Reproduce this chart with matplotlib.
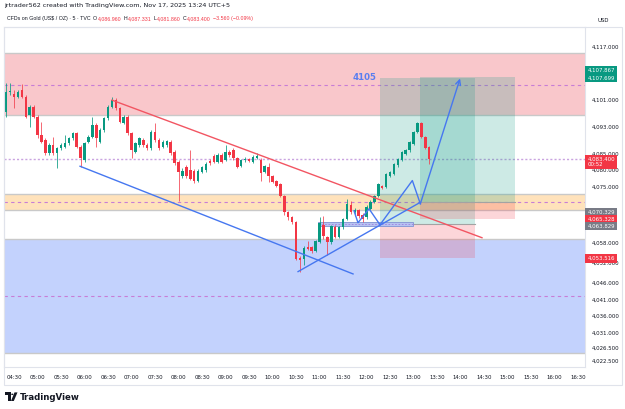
import matplotlib
matplotlib.use("Agg")
import matplotlib.pyplot as plt
from matplotlib.patches import Rectangle, Polygon, Circle
from matplotlib.transforms import blended_transform_factory

# ---------------- data ----------------
first_candle_min = -10          # 04:20, minutes relative to 04:30
bar_minutes = 5

opens = [4097.3, 4103.5, 4102.8, 4102.0, 4104.0, 4102.0, 4096.4, 4099.0, 4096.0, 4090.5,
         4089.0, 4085.0, 4087.5, 4085.0, 4086.5, 4087.0, 4088.0, 4089.5, 4091.0, 4087.0,
         4083.0, 4088.5, 4090.0, 4093.5, 4088.5, 4092.0, 4095.5, 4099.0, 4101.0, 4098.5,
         4094.2, 4096.0, 4091.0, 4085.5, 4087.5, 4089.0, 4087.5, 4086.5, 4091.5, 4089.0,
         4087.0, 4087.5, 4088.5, 4085.5, 4082.5, 4078.3, 4080.8, 4080.0, 4079.8, 4076.8,
         4079.5, 4080.0, 4082.6, 4084.3, 4082.3, 4084.5, 4083.0, 4085.5, 4086.0, 4083.6,
         4081.3, 4083.0, 4083.2, 4082.3, 4083.5, 4083.0, 4079.3, 4081.0, 4078.3, 4076.8,
         4075.8, 4072.3, 4067.2, 4065.7, 4064.2, 4053.4, 4053.1, 4056.8, 4056.8, 4055.5,
         4058.2, 4063.5, 4059.9, 4058.2, 4062.9, 4059.9, 4062.7, 4065.2, 4069.5, 4067.3,
         4068.0, 4066.4, 4065.7, 4068.3, 4070.3, 4072.3, 4075.3, 4074.8, 4078.3, 4078.8,
         4081.4, 4082.9, 4084.9, 4085.9, 4087.9, 4091.4, 4094.0, 4089.9, 4086.96]
highs = [4106.3, 4106.3, 4104.0, 4104.0, 4105.7, 4102.5, 4099.5, 4099.5, 4096.5, 4094.5,
         4089.5, 4088.0, 4090.0, 4087.0, 4088.0, 4090.5, 4090.0, 4091.5, 4091.5, 4087.5,
         4088.5, 4090.5, 4096.0, 4094.0, 4092.5, 4096.0, 4099.5, 4102.0, 4101.5, 4099.0,
         4096.5, 4096.5, 4091.5, 4088.5, 4090.0, 4089.5, 4088.0, 4092.0, 4094.0, 4089.5,
         4089.0, 4089.0, 4089.0, 4086.0, 4083.0, 4080.5, 4081.5, 4086.0, 4080.3, 4080.3,
         4081.3, 4082.3, 4083.2, 4084.8, 4085.0, 4085.0, 4087.4, 4086.0, 4086.5, 4084.0,
         4083.3, 4083.8, 4083.5, 4084.5, 4085.0, 4083.5, 4081.5, 4082.0, 4078.5, 4077.0,
         4076.0, 4072.5, 4067.5, 4066.0, 4064.5, 4054.0, 4057.0, 4058.7, 4057.0, 4058.9,
         4065.7, 4066.2, 4060.2, 4063.5, 4063.3, 4063.0, 4065.5, 4071.3, 4070.5, 4068.5,
         4068.3, 4067.0, 4069.5, 4070.8, 4072.6, 4076.0, 4075.6, 4079.0, 4079.6, 4082.2,
         4083.7, 4085.7, 4086.2, 4088.7, 4091.7, 4094.5, 4094.5, 4090.2, 4087.331]
lows = [4096.0, 4102.5, 4098.5, 4101.5, 4101.5, 4095.5, 4093.0, 4095.5, 4089.5, 4088.0,
        4084.5, 4084.5, 4084.5, 4080.5, 4086.0, 4086.5, 4087.5, 4089.0, 4086.5, 4081.0,
        4082.5, 4088.0, 4089.5, 4087.0, 4088.0, 4091.5, 4095.0, 4098.5, 4098.0, 4094.0,
        4093.8, 4090.5, 4083.5, 4085.0, 4087.0, 4087.0, 4086.0, 4086.0, 4088.5, 4086.0,
        4086.5, 4087.0, 4084.5, 4081.5, 4070.5, 4077.5, 4077.5, 4077.0, 4076.0, 4076.3,
        4079.0, 4079.5, 4081.5, 4082.0, 4082.0, 4082.0, 4082.8, 4084.0, 4083.0, 4080.5,
        4081.0, 4082.5, 4082.3, 4082.0, 4083.2, 4076.8, 4079.0, 4076.5, 4076.0, 4075.0,
        4072.0, 4066.3, 4065.0, 4063.8, 4053.0, 4049.4, 4051.5, 4056.0, 4055.0, 4055.2,
        4058.0, 4059.3, 4054.5, 4057.8, 4059.5, 4059.5, 4062.3, 4064.8, 4066.8, 4066.0,
        4065.5, 4064.3, 4065.3, 4068.0, 4070.0, 4072.0, 4074.3, 4074.5, 4078.0, 4078.5,
        4081.0, 4082.6, 4084.6, 4085.5, 4087.6, 4091.0, 4089.5, 4086.3, 4081.86]
closes = [4103.5, 4103.8, 4102.0, 4103.5, 4102.0, 4096.0, 4099.0, 4096.0, 4090.5, 4088.5,
          4085.0, 4087.5, 4085.0, 4086.5, 4087.5, 4088.0, 4089.5, 4091.0, 4087.0, 4083.5,
          4088.0, 4090.0, 4093.5, 4089.5, 4092.0, 4095.5, 4099.0, 4101.0, 4098.5, 4094.5,
          4096.0, 4091.0, 4086.0, 4088.0, 4089.5, 4087.5, 4086.5, 4091.5, 4089.0, 4086.5,
          4088.5, 4088.7, 4085.0, 4082.0, 4079.3, 4079.8, 4078.3, 4077.3, 4076.8, 4079.8,
          4080.8, 4081.8, 4082.0, 4082.5, 4084.5, 4082.5, 4085.5, 4084.6, 4083.6, 4081.0,
          4083.0, 4083.3, 4082.6, 4084.0, 4084.3, 4079.0, 4081.3, 4078.3, 4076.3, 4075.3,
          4072.3, 4067.2, 4065.7, 4064.2, 4053.2, 4052.9, 4056.6, 4056.3, 4055.5, 4058.7,
          4063.9, 4060.0, 4058.2, 4063.2, 4059.9, 4062.7, 4065.2, 4069.8, 4067.3, 4068.0,
          4066.0, 4065.3, 4068.8, 4070.3, 4072.3, 4075.8, 4074.6, 4078.8, 4079.3, 4081.9,
          4083.4, 4085.4, 4085.9, 4088.4, 4091.4, 4094.0, 4089.9, 4086.7, 4083.4]

time_tick_minutes = list(range(0, 721, 30))
time_tick_labels = ["04:30", "05:00", "05:30", "06:00", "06:30", "07:00", "07:30", "08:00",
                    "08:30", "09:00", "09:30", "10:00", "10:30", "11:00", "11:30", "12:00",
                    "12:30", "13:00", "13:30", "14:00", "14:30", "15:00", "15:30", "16:00", "16:30"]
price_ticks = [4117.0, 4101.0, 4093.0, 4085.0, 4080.0, 4075.0, 4058.0, 4052.0,
               4046.0, 4041.0, 4036.0, 4031.0, 4026.5, 4022.5]

zone_bounds = [(4096.5, 4115.2), (4067.8, 4072.9), (4024.9, 4059.3)]
zone_colors = ["#f9c7cb", "#ffe2bb", "#c3d2fd"]
zone_mids = [4105.6, 4070.3, 4042.2]
last_price = 4083.4

red_trend = [(125.1, 4101.0), (597.4, 4059.6)]
blue_channel = [(84.3, 4081.1), (432.8, 4048.7)]
blue_long = [(362.6, 4049.4), (518.3, 4070.2)]
zigzag = [(467.2, 4063.5), (508.5, 4076.8), (518.7, 4069.8), (569.4, 4107.5)]
small_v = [(434.0, 4067.7), (439.1, 4064.1), (453.2, 4068.3), (467.2, 4063.5)]
blue_box = (388.5, 509.0, 4063.0, 4064.2)

# long position tools: (x0, x1, target, entry, stop)
positions = [(467.2, 588.5, 4107.699, 4063.829, 4053.516),
             (518.3, 639.6, 4107.867, 4070.329, 4065.328)]

target_label = ("4105", 448.0, 4107.9)

# right-axis tags: (text, displayed price, colour)
tags = [("4,107.867", 4110.0, "#089981"),
        ("4,107.699", 4107.7, "#089981"),
        ("4,083.400\n00:52", 4082.4, "#f23645"),
        ("4,070.329", 4067.2, "#787b86"),
        ("4,065.328", 4065.2, "#f23645"),
        ("4,063.829", 4063.1, "#787b86"),
        ("4,053.516", 4053.3, "#f23645")]

header_title = "jrtrader562 created with TradingView.com, Nov 17, 2025 13:24 UTC+5"
symbol_text = "CFDs on Gold (US$ / OZ) \u00b7 5 \u00b7 TVC"
ohlc_letters = ["O", "H", "L", "C"]
ohlc_values = ["4,086.960", "4,087.331", "4,081.860", "4,083.400"]
change_text = "\u22123.560 (\u22120.09%)"

# ---------------- figure ----------------
W, H = 625, 409
fig = plt.figure(figsize=(W / 100, H / 100), dpi=100)
fig.patch.set_facecolor("white")

def fx(x):
    return x / W

def fy(y):
    return 1 - y / H

AX_L, AX_R, AX_T, AX_B = 4, 585, 27, 367
ax = fig.add_axes([fx(AX_L), fy(AX_B), (AX_R - AX_L) / W, (AX_B - AX_T) / H])
ax.set_xlim(-12.77, 728.9)
ax.set_ylim(4020.7, 4123.0)

GREEN = "#089981"
RED = "#f23645"
BLUE = "#4677f0"

# zones
for (lo, hi), col, mid in zip(zone_bounds, zone_colors, zone_mids):
    ax.axhspan(lo, hi, facecolor=col, edgecolor="none", zorder=1)
    ax.axhline(lo, color="#c9c9c9", lw=1.0, zorder=1.2)
    ax.axhline(hi, color="#c9c9c9", lw=1.0, zorder=1.2)
    ax.axhline(mid, color="#c77dd6", lw=0.8, ls=(0, (3, 3)), zorder=1.3)

# position tools
for x0, x1, tgt, ent, stp in positions:
    ax.add_patch(Rectangle((x0, ent), x1 - x0, tgt - ent, facecolor=(8/255, 153/255, 129/255, 0.2),
                           edgecolor="none", zorder=1.5))
    ax.add_patch(Rectangle((x0, stp), x1 - x0, ent - stp, facecolor=(242/255, 54/255, 69/255, 0.2),
                           edgecolor="none", zorder=1.5))
    ax.plot([x0, x1], [ent, ent], color="#a3a3a3", lw=0.8, zorder=1.6)

# last price line
ax.axhline(last_price, color="#c9a3e0", lw=1.0, ls=(0, (1.5, 1.5)), zorder=1.4)

# blue box
bx0, bx1, by0, by1 = blue_box
ax.add_patch(Rectangle((bx0, by0), bx1 - bx0, by1 - by0, facecolor="#b7c3f1",
                       edgecolor="#8b9bd6", lw=0.7, zorder=1.7))
ax.plot([bx0, bx1], [(by0 + by1) / 2] * 2, color="#9f7fe0", lw=0.6, ls=(0, (2, 2)), zorder=1.8)

# candles
n = len(closes)
xs = [first_candle_min + bar_minutes * i for i in range(n)]
for x, o, h, l, c in zip(xs, opens, highs, lows, closes):
    col = GREEN if c >= o else RED
    ax.vlines(x, l, h, color=col, lw=0.7, alpha=0.75 if col == RED else 0.8, zorder=3)
    lo_b = min(o, c)
    hb = max(abs(c - o), 0.15)
    ax.add_patch(Rectangle((x - 1.6, lo_b), 3.2, hb, facecolor=col, edgecolor="none", zorder=3.1))

# trend lines
ax.plot([p[0] for p in red_trend], [p[1] for p in red_trend], color="#f25562", lw=1.0, zorder=4)
ax.plot([p[0] for p in blue_channel], [p[1] for p in blue_channel], color=BLUE, lw=1.0, zorder=4)
ax.plot([p[0] for p in blue_long], [p[1] for p in blue_long], color=BLUE, lw=1.0, zorder=4)
ax.plot([p[0] for p in small_v], [p[1] for p in small_v], color=BLUE, lw=1.0, zorder=4)
ax.plot([p[0] for p in zigzag[:-1]], [p[1] for p in zigzag[:-1]], color=BLUE, lw=1.0, zorder=4)
ax.annotate("", xy=zigzag[-1], xytext=zigzag[-2],
            arrowprops=dict(arrowstyle="->", color=BLUE, lw=1.0, mutation_scale=9,
                            shrinkA=0, shrinkB=0), zorder=4)

ax.text(target_label[1], target_label[2], target_label[0], color="#5a7ef0", fontsize=6.2,
        fontweight="bold", ha="center", va="center", zorder=5)

# axes styling
for s in ["left", "right", "bottom", "top"]:
    ax.spines[s].set_color("#e0e3eb")
    ax.spines[s].set_linewidth(0.8)
ax.yaxis.tick_right()
ax.set_yticks(price_ticks)
ax.set_yticklabels([f"{v:,.3f}" for v in price_ticks])
ax.tick_params(axis="y", length=0, pad=5, labelsize=3.9, labelcolor="#131722")
ax.set_xticks(time_tick_minutes)
ax.set_xticklabels(time_tick_labels)
ax.tick_params(axis="x", length=0, pad=5.5, labelsize=3.9, labelcolor="#131722")

# tags on price axis
tr = blended_transform_factory(ax.transAxes, ax.transData)
for txt, yv, col in tags:
    ax.text(1.004, yv, txt, transform=tr, fontsize=3.9, color="white", ha="left", va="center",
            linespacing=1.25, clip_on=False, zorder=10,
            bbox=dict(boxstyle="square,pad=0.35", facecolor=col, edgecolor="none"))

# outer frame
fig.add_artist(Rectangle((fx(4), fy(385)), (622 - 4) / W, (385 - 27) / H, transform=fig.transFigure,
                         fill=False, edgecolor="#e0e3eb", lw=0.8))

# header line 1
fig.text(fx(4), fy(6), header_title, fontsize=4.6, color="#131722", va="center", ha="left")

# header line 2, pieces placed one after another
renderer = fig.canvas.get_renderer()
HFONT = dict(fontsize=3.75, family="Liberation Sans", va="center", ha="left")
cursor = 7.0

def put(text, color, gap):
    global cursor
    t = fig.text(fx(cursor), fy(18.5), text, color=color, **HFONT)
    bb = t.get_window_extent(renderer=renderer)
    cursor += bb.width + gap
    return t

put(symbol_text, "#131722", 2.6)
for letter, val in zip(ohlc_letters, ohlc_values):
    put(letter, "#131722", 0.6)
    put(val, RED, 2.0)
put(change_text, RED, 0)

fig.text(fx(598), fy(20), "USD", fontsize=3.9, color="#131722", va="center", ha="left")

# TradingView logo
logo_col = "#131722"
fig.add_artist(Rectangle((fx(5), fy(395)), 5.5 / W, 2.6 / H, transform=fig.transFigure,
                         facecolor=logo_col, edgecolor="none"))
fig.add_artist(Rectangle((fx(7.8), fy(401)), 2.7 / W, 6 / H, transform=fig.transFigure,
                         facecolor=logo_col, edgecolor="none"))
fig.add_artist(Circle((fx(12.3), fy(394.3)), 1.1 / W, transform=fig.transFigure,
                      facecolor=logo_col, edgecolor="none"))
fig.add_artist(Polygon([(fx(14.5), fy(392.4)), (fx(17.5), fy(392.4)), (fx(13.8), fy(401)),
                        (fx(11.0), fy(401))], closed=True, transform=fig.transFigure,
                       facecolor=logo_col, edgecolor="none"))
fig.text(fx(19.5), fy(397), "TradingView", fontsize=6.2, fontweight="bold", color=logo_col,
         va="center", ha="left")

fig.savefig("out.png", dpi=100)
